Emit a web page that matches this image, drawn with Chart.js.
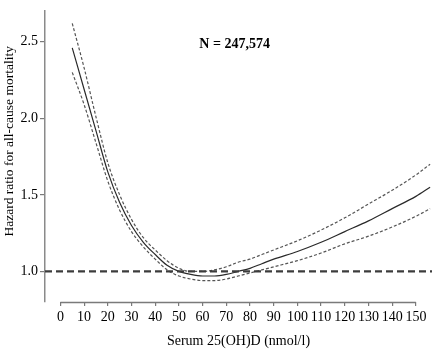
<!DOCTYPE html>
<html>
<head>
<meta charset="utf-8">
<script src="https://cdn.jsdelivr.net/npm/chart.js@4/dist/chart.umd.min.js"></script>
<style>
html,body{margin:0;padding:0;background:#fff;}
#wrap{width:440px;height:356px;position:relative;}
</style>
</head>
<body>
<div id="wrap"><canvas id="c"></canvas></div>
<script>
const vitD =  [5,    10,   15,   20,   25,   30,   35,   40,   45,   50,   55,   60,   65,   70,   75,   80,   85,   90,   100,  110,  120,  130,  140,  150,  156];
const hazard =[2.46, 2.19, 1.92, 1.65, 1.45, 1.30, 1.19, 1.11, 1.04, 1.00, 0.98, 0.97, 0.97, 0.98, 1.00, 1.02, 1.05, 1.08, 1.13, 1.19, 1.26, 1.33, 1.41, 1.49, 1.55];
const upperCI=[2.62, 2.33, 2.01, 1.71, 1.50, 1.34, 1.22, 1.14, 1.07, 1.02, 1.00, 1.00, 1.01, 1.03, 1.06, 1.08, 1.11, 1.14, 1.20, 1.27, 1.35, 1.44, 1.53, 1.63, 1.70];
const lowerCI=[2.30, 2.09, 1.84, 1.59, 1.40, 1.26, 1.16, 1.08, 1.01, 0.97, 0.95, 0.94, 0.94, 0.95, 0.97, 0.99, 1.01, 1.03, 1.07, 1.12, 1.18, 1.23, 1.29, 1.36, 1.41];
const xTicks = [0,10,20,30,40,50,60,70,80,90,100,110,120,130,140,150];
const yTicks = [1.0,1.5,2.0,2.5];
const refHR = 1.0;
const xMin = -6.5, xMax = 156.8, yMin = 0.80, yMax = 2.705;
const sampleLabel = 'N = 247,574';
const yTitle = 'Hazard ratio for all-cause mortality';
const xTitle = 'Serum 25(OH)D (nmol/l)';

const pts = (xs, ys) => xs.map((x,i)=>({x:x, y:ys[i]}));
const FONT = "'Liberation Serif','Times New Roman',serif";

const axisPlugin = {
  id:'axisPlugin',
  afterDatasetsDraw(chart){
    const {ctx, chartArea, scales} = chart;
    const x = scales.x, y = scales.y;
    ctx.save();
    ctx.strokeStyle = '#7a7a7a';
    ctx.lineWidth = 1.3;
    ctx.beginPath();
    ctx.moveTo(x.getPixelForValue(xTicks[0]), chartArea.bottom + 0.5);
    ctx.lineTo(x.getPixelForValue(xTicks[xTicks.length-1]), chartArea.bottom + 0.5);
    ctx.stroke();
    ctx.fillStyle = '#000';
    ctx.font = "bold 14px " + FONT;
    ctx.textAlign = 'center';
    ctx.textBaseline = 'middle';
    ctx.fillText(sampleLabel, x.getPixelForValue(73.5), y.getPixelForValue(2.48));
    // y-axis title
    ctx.font = "13.5px " + FONT;
    ctx.translate(9, y.getPixelForValue(1.85));
    ctx.rotate(-Math.PI/2);
    ctx.fillText(yTitle, 0, 0);
    ctx.restore();
  }
};

new Chart(document.getElementById('c'), {
  type:'line',
  data:{
    datasets:[
      {data: pts([xMin, xMax],[refHR, refHR]), borderColor:'#3c3c3c', borderWidth:2.2, borderDash:[7,4], pointRadius:0, tension:0},
      {data: pts(vitD, upperCI), borderColor:'#555', borderWidth:1.2, borderDash:[3,2], pointRadius:0, cubicInterpolationMode:'monotone'},
      {data: pts(vitD, lowerCI), borderColor:'#555', borderWidth:1.2, borderDash:[3,2], pointRadius:0, cubicInterpolationMode:'monotone'},
      {data: pts(vitD, hazard), borderColor:'#2a2a2a', borderWidth:1.2, pointRadius:0, cubicInterpolationMode:'monotone'}
    ]
  },
  options:{
    responsive:true,
    maintainAspectRatio:false,
    animation:false,
    layout:{padding:{top:5,right:8,left:0,bottom:0}},
    plugins:{legend:{display:false}, tooltip:{enabled:false}},
    scales:{
      x:{
        type:'linear', min:xMin, max:xMax,
        afterBuildTicks(s){ s.ticks = xTicks.map(v=>({value:v})); },
        afterFit(s){ s.height = 54; },
        grid:{display:true, drawOnChartArea:false, drawTicks:true, tickLength:4, color:'#7a7a7a', lineWidth:1.2},
        border:{display:false},
        ticks:{color:'#000', font:{family:FONT, size:14}, padding:3, maxRotation:0, autoSkip:false},
        title:{display:true, text:xTitle, color:'#000', font:{family:FONT, size:14}, padding:{top:0,bottom:6}}
      },
      y:{
        type:'linear', min:yMin, max:yMax,
        afterBuildTicks(s){ s.ticks = yTicks.map(v=>({value:v})); },
        afterFit(s){ s.width = 45; },
        grid:{display:true, drawOnChartArea:false, drawTicks:true, tickLength:5, color:'#7a7a7a', lineWidth:1.2},
        border:{display:true, color:'#8a8a8a', width:1.5},
        ticks:{color:'#000', font:{family:FONT, size:14}, padding:2, callback:v=>Number(v).toFixed(1)},
        title:{display:false}
      }
    }
  },
  plugins:[axisPlugin]
});
</script>
</body>
</html>
